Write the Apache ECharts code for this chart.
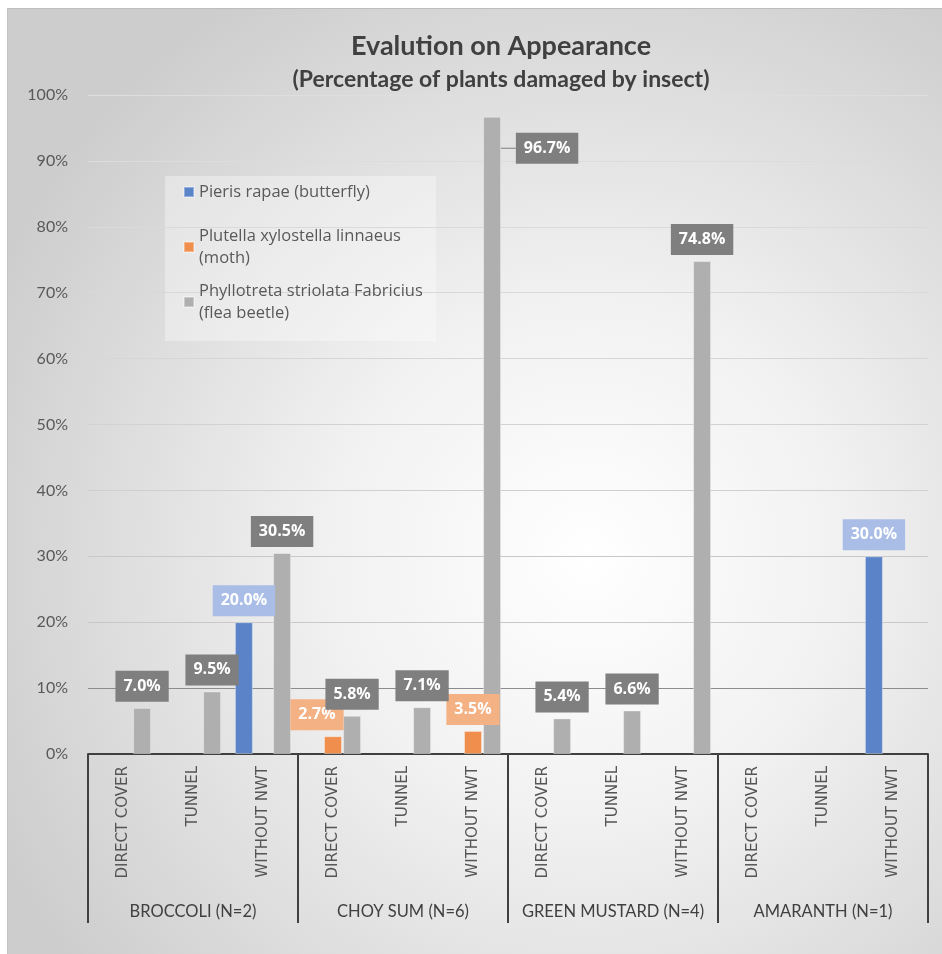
<!DOCTYPE html>
<html>
<head>
<meta charset="utf-8">
<script src="https://cdn.jsdelivr.net/npm/echarts@6/dist/echarts.min.js"></script>
<style>
  html, body { margin: 0; padding: 0; background: #ffffff; }
  #frame {
    position: absolute; left: 7px; top: 8px; width: 935px; height: 946px;
    box-sizing: border-box; border-top: 1px solid #bdbdbd; border-left: 1px solid #c4c4c4;
    background: radial-gradient(ellipse 70% 70% at 62% 58%, #ffffff 0%, #f1f1f1 40%, #cdcdcd 100%);
  }
  #chart { position: absolute; left: 0; top: 0; width: 942px; height: 954px; }
</style>
</head>
<body>
<div id="frame"></div>
<div id="chart"></div>
<script>
// Treatments, repeated for each crop group
const treatments = [
  'DIRECT COVER', 'TUNNEL', 'WITHOUT NWT',
  'DIRECT COVER', 'TUNNEL', 'WITHOUT NWT',
  'DIRECT COVER', 'TUNNEL', 'WITHOUT NWT',
  'DIRECT COVER', 'TUNNEL', 'WITHOUT NWT'
];
const crops = ['BROCCOLI (N=2)', 'CHOY SUM (N=6)', 'GREEN MUSTARD (N=4)', 'AMARANTH (N=1)'];

const seriesNames = [
  'Pieris rapae (butterfly)',
  'Plutella xylostella linnaeus\n(moth)',
  'Phyllotreta striolata Fabricius\n(flea beetle)'
];

// Percentage of plants damaged (null = no damage recorded)
const butterfly = [null, null, 20.0, null, null, null, null, null, null, null, null, 30.0];
const moth      = [null, null, null, 2.7, null, 3.5, null, null, null, null, null, null];
const fleaBeetle = [7.0, 9.5, 30.5, 5.8, 7.1, 96.7, 5.4, 6.6, 74.8, null, null, null];

const yTicks = { min: 0, max: 100, interval: 10 };

const colors = ['#5b84c8', '#ef8e4d', '#afafaf'];
const labelBg = ['#a9bde6', '#f4b183', '#7f7f7f'];

const chart = echarts.init(document.getElementById('chart'), null, { renderer: 'canvas' });

function pct(v) { return v.toFixed(1) + '%'; }

// Labels nudged aside so they do not collide (series index, data index, shift)
const labelShifts = [
  { s: 1, i: 3, dx: -16, dy: 0 },
  { s: 2, i: 5, dx: 55, dy: 53 }
];

function makeSeries(idx, values) {
  return {
    name: seriesNames[idx],
    type: 'bar',
    xAxisIndex: 0,
    barWidth: 18,
    barGap: '6%',
    itemStyle: { color: colors[idx], borderColor: 'rgba(255,255,255,0.35)', borderWidth: 1 },
    data: values.map(function (v, i) {
      const item = { value: v };
      if (idx === 2 && i === 5) item.labelLine = { show: true, lineStyle: { color: '#7f7f7f', width: 1 } };
      return item;
    }),
    label: {
      show: true,
      position: 'top',
      distance: 6,
      formatter: function (p) { return p.value == null ? '' : pct(p.value); },
      color: '#ffffff',
      fontFamily: 'Open Sans',
      fontWeight: 'bold',
      fontSize: 16,
      lineHeight: 19,
      backgroundColor: labelBg[idx],
      padding: [6, 8, 6, 8]
    },
    labelLine: { show: false },
    labelLayout: function (params) {
      for (const sh of labelShifts) {
        if (sh.s === idx && sh.i === params.dataIndex) return { dx: sh.dx, dy: sh.dy };
      }
      return {};
    }
  };
}

const splitColors = ['#cfcfcf', '#8c8c8c', '#c8c8c8', '#c8c8c8', '#cfcfcf', '#d2d2d2',
                     '#d6d6d6', '#d8d8d8', '#dadada', '#dcdcdc', '#dedede'];

function legendBlock(name, top, twoLine) {
  return {
    show: true,
    orient: 'vertical',
    left: 183,
    top: top,
    padding: 0,
    itemWidth: 10,
    itemHeight: 10,
    icon: 'rect',
    data: [{ name: name, textStyle: twoLine ? { padding: [22, 0, 0, 0] } : {} }],
    textStyle: { fontFamily: 'Open Sans', fontSize: 16.5, color: '#595959', lineHeight: 22 },
    selectedMode: false
  };
}

chart.setOption({
  animation: false,
  title: [
    {
      text: 'Evalution on Appearance',
      left: 496, top: 28, textAlign: 'center',
      textStyle: { fontFamily: 'Lato', fontWeight: 'bold', fontSize: 27, color: '#404040' }
    },
    {
      text: '(Percentage of plants damaged by insect)',
      left: 496, top: 63, textAlign: 'center',
      textStyle: { fontFamily: 'Lato', fontWeight: 'bold', fontSize: 23, color: '#404040' }
    }
  ],
  graphic: [{
    type: 'rect', left: 165, top: 176, z: -1,
    shape: { width: 271, height: 165 },
    style: { fill: 'rgba(255,255,255,0.35)' }
  }],
  legend: [
    legendBlock(seriesNames[0], 181, false),
    legendBlock(seriesNames[1], 214, true),
    legendBlock(seriesNames[2], 269, true)
  ],
  grid: { left: 88, right: 14, top: 95, bottom: 200, containLabel: false },
  xAxis: [
    {
      type: 'category',
      data: treatments,
      position: 'bottom',
      axisLine: { show: true, lineStyle: { color: '#404040', width: 2 } },
      axisTick: { show: false },
      axisLabel: {
        interval: 0, rotate: 90, margin: 12,
        fontFamily: 'DejaVu Sans', fontSize: 15, color: '#555555'
      },
      splitLine: { show: false }
    },
    {
      type: 'category',
      data: crops,
      position: 'bottom',
      axisLine: { show: false },
      axisTick: { show: true, length: 169, lineStyle: { color: '#404040', width: 2 } },
      axisLabel: {
        interval: 0, margin: 149,
        fontFamily: 'Lato', fontSize: 16.5, color: '#404040'
      },
      splitLine: { show: false }
    }
  ],
  yAxis: {
    type: 'value',
    min: yTicks.min, max: yTicks.max, interval: yTicks.interval,
    axisLine: { show: false },
    axisTick: { show: false },
    axisLabel: {
      formatter: '{value}%', margin: 20,
      fontFamily: 'Lato', fontSize: 16, color: '#595959'
    },
    splitLine: { show: true, lineStyle: { color: splitColors, width: 1 } }
  },
  series: [
    makeSeries(0, butterfly),
    makeSeries(1, moth),
    makeSeries(2, fleaBeetle)
  ]
});
</script>
</body>
</html>
